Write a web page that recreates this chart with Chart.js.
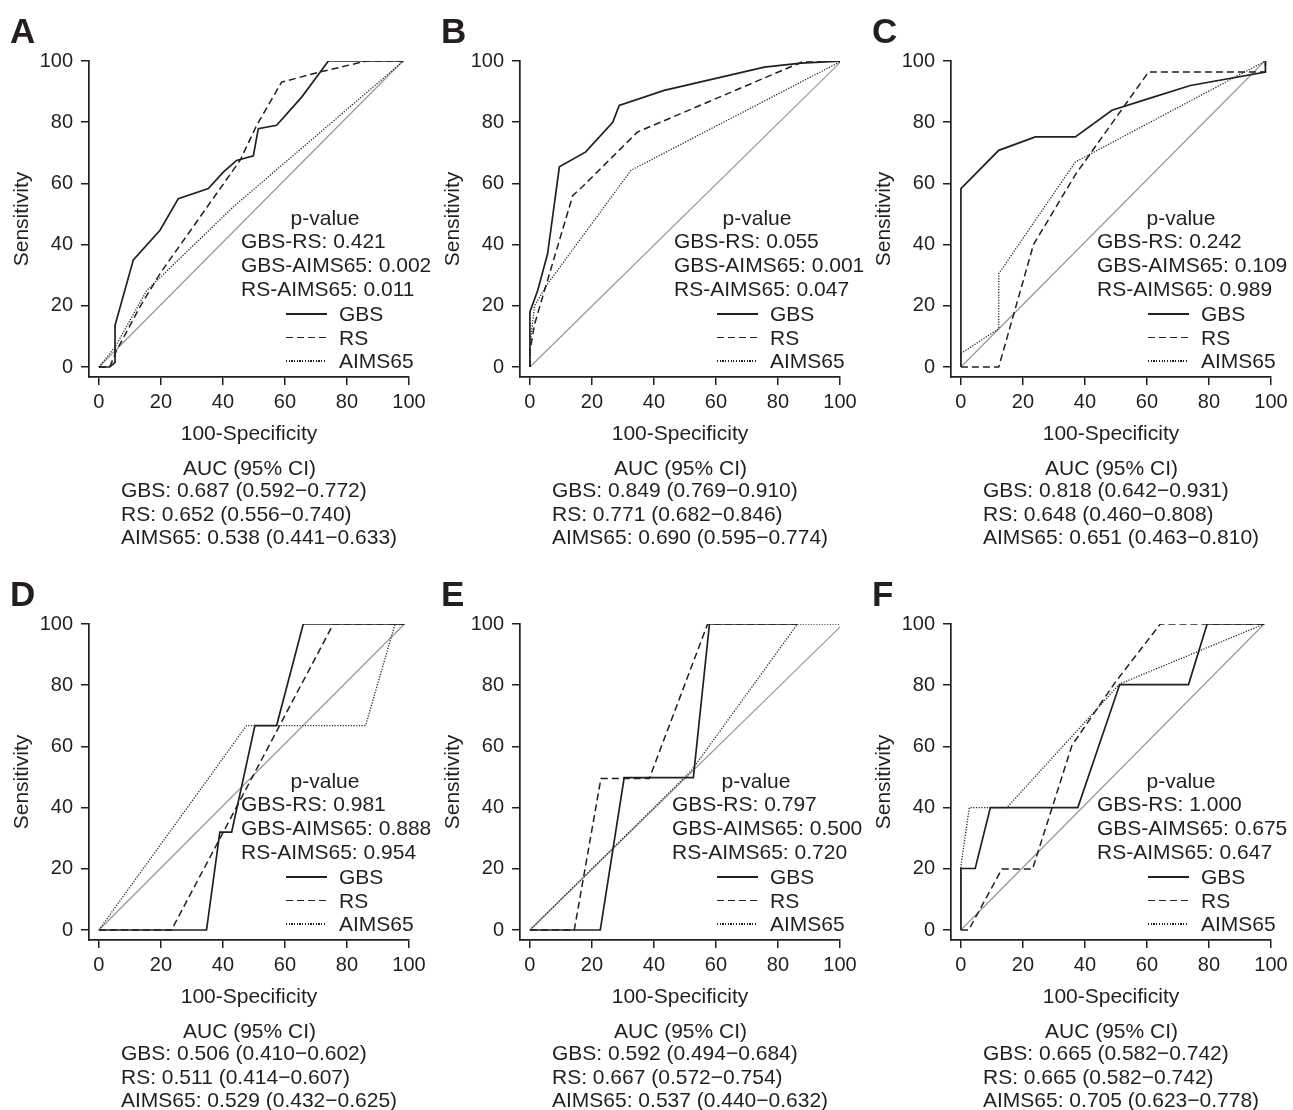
<!DOCTYPE html>
<html>
<head>
<meta charset="utf-8">
<script src="https://cdn.jsdelivr.net/npm/chart.js@4.4.1/dist/chart.umd.min.js"></script>
<style>
  body { margin:0; background:#fff; width:1293px; height:1110px; position:relative; overflow:hidden;
         font-family:"Liberation Sans", Arial, sans-serif; color:#231f20; }
  canvas { position:absolute; }
  .t { position:absolute; white-space:nowrap; line-height:1; font-size:21px; }
  .lbl { font-family:"Liberation Sans Narrow","Liberation Sans",sans-serif; font-weight:bold; font-size:35px; }
  .smp { position:absolute; width:41px; }
</style>
</head>
<body>
<script>
// axis ticks
const xTicks = [0, 20, 40, 60, 80, 100];
const yTicks = [0, 20, 40, 60, 80, 100];
const seriesNames = ['GBS', 'RS', 'AIMS65'];
const pairNames = ['GBS-RS', 'GBS-AIMS65', 'RS-AIMS65'];

// A
const gbsA = [[0,0],[3.5,0],[5.2,1.5],[5.2,13.6],[11.1,35],[19.7,44.7],[25.6,55],[35.3,58.3],[40.1,63.7],[44.4,67.5],[49.8,69],[51.4,77.9],[57.3,79],[65.4,88.2],[74,100],[98.2,100]];
const rsA = [[0,0],[3.5,0],[5.5,5],[13.2,19.6],[19.7,30.5],[45.5,67.5],[50.9,79],[58.9,93.1],[71.3,96.4],[86.3,100],[98.2,100]];
const aimsA = [[0,0],[5.2,6.5],[15.4,25],[43.3,52.3],[98.2,100]];
const refA = [[0,0],[98,100]];
const pA = ['0.421', '0.002', '0.011'];
const aucA = ['0.687 (0.592−0.772)', '0.652 (0.556−0.740)', '0.538 (0.441−0.633)'];

// B
const gbsB = [[0,0],[0,18],[2.5,25],[5.7,37],[9.5,65.4],[18,70.3],[26.7,80],[28.8,85.5],[43.3,90.4],[75.6,98],[87.4,99.3],[100.5,100]];
const rsB = [[0,0],[0,5],[1.5,14],[5.2,26.7],[13.8,56],[17,59],[34.7,76.8],[88.5,100],[100.5,100]];
const aimsB = [[0,0],[0,7],[1.5,20],[5.7,27.2],[32.6,64.3],[100.5,100]];
const refB = [[0,0],[100.5,100]];
const pB = ['0.055', '0.001', '0.047'];
const aucB = ['0.849 (0.769−0.910)', '0.771 (0.682−0.846)', '0.690 (0.595−0.774)'];

// C
const gbsC = [[0,0],[0,58.3],[12.2,70.8],[24,75.2],[36.9,75.2],[48.7,83.9],[60.5,87.7],[74,92],[98.2,96.4],[98.2,100]];
const rsC = [[0,0],[12.2,0],[23.4,40],[37,63],[60.5,96.4],[98.2,96.4],[98.2,100]];
const aimsC = [[0,0],[0,4.4],[12.2,12.5],[12.2,30.5],[36.9,67],[98.2,100]];
const refC = [[0,0],[98,100]];
const pC = ['0.242', '0.109', '0.989'];
const aucC = ['0.818 (0.642−0.931)', '0.648 (0.460−0.808)', '0.651 (0.463−0.810)'];

// D
const gbsD = [[0,0],[34.7,0],[39,32],[42.8,32],[50.3,66.8],[57.3,66.8],[65.9,100],[98.5,100]];
const rsD = [[0,0],[23.4,0],[75.6,100],[98.5,100]];
const aimsD = [[0,0],[47.6,66.8],[86,66.8],[95.5,100],[98.5,100]];
const refD = [[0,0],[98.5,100]];
const pD = ['0.981', '0.888', '0.954'];
const aucD = ['0.506 (0.410−0.602)', '0.511 (0.414−0.607)', '0.529 (0.432−0.625)'];

// E
const gbsE = [[0,0],[22.7,0],[30.4,49.8],[52.7,49.8],[57.9,100],[86.3,100]];
const rsE = [[0,0],[14.3,0],[22.9,49.5],[38.5,49.5],[57.3,100],[86.3,100]];
const aimsE = [[0,0],[52,52],[86.3,100],[101,100]];
const refE = [[0,0],[101,100]];
const pE = ['0.797', '0.500', '0.720'];
const aucE = ['0.592 (0.494−0.684)', '0.667 (0.572−0.754)', '0.537 (0.440−0.632)'];

// F
const gbsF = [[0,0],[0,20.1],[4.6,20.1],[9.5,40],[37.7,40],[51.2,80.2],[73.4,80.2],[79.4,100],[97.8,100]];
const rsF = [[0,0],[2.5,0],[13.2,19.9],[23.1,19.9],[35.8,60.3],[49.8,81],[64.3,100],[97.8,100]];
const aimsF = [[0,0],[0,21],[2.7,40],[14.8,40],[51.2,80.4],[97.8,100]];
const refF = [[0,0],[97.8,100]];
const pF = ['1.000', '0.675', '0.647'];
const aucF = ['0.665 (0.582−0.742)', '0.665 (0.582−0.742)', '0.705 (0.623−0.778)'];

const panels = [
  { id:'A', gbs:gbsA, rs:rsA, aims:aimsA, ref:refA, p:pA, auc:aucA, col:0, row:0, pLeft:241, pMid:325 },
  { id:'B', gbs:gbsB, rs:rsB, aims:aimsB, ref:refB, p:pB, auc:aucB, col:1, row:0, pLeft:243, pMid:326 },
  { id:'C', gbs:gbsC, rs:rsC, aims:aimsC, ref:refC, p:pC, auc:aucC, col:2, row:0, pLeft:235, pMid:319 },
  { id:'D', gbs:gbsD, rs:rsD, aims:aimsD, ref:refD, p:pD, auc:aucD, col:0, row:1, pLeft:241, pMid:325 },
  { id:'E', gbs:gbsE, rs:rsE, aims:aimsE, ref:refE, p:pE, auc:aucE, col:1, row:1, pLeft:241, pMid:325 },
  { id:'F', gbs:gbsF, rs:rsF, aims:aimsF, ref:refF, p:pF, auc:aucF, col:2, row:1, pLeft:235, pMid:319 }
];

const INK = '#231f20';
const FAM = '"Liberation Sans", Arial, sans-serif';
const xy = arr => arr.map(d => ({ x: d[0], y: d[1] }));

// text placed by baseline (line-height 1, Liberation metrics)
function put(txt, x, base, cls, size, center) {
  const d = document.createElement('div');
  d.className = 't ' + (cls || '');
  if (size) d.style.fontSize = size + 'px';
  const fs = size || 21;
  d.style.left = x + 'px';
  d.style.top = (base - 0.8465 * fs) + 'px';
  if (center) d.style.transform = 'translateX(-50%)';
  d.textContent = txt;
  document.body.appendChild(d);
}

function sample(x, y, bg, h) {
  const s = document.createElement('div');
  s.className = 'smp';
  s.style.left = x + 'px';
  s.style.top = (y - h / 2) + 'px';
  s.style.height = h + 'px';
  s.style.background = bg;
  document.body.appendChild(s);
}

const line = (data, opts) => Object.assign({
  data: xy(data), showLine: true, pointRadius: 0, borderColor: INK, borderWidth: 1.7, fill: false, tension: 0
}, opts);

panels.forEach(p => {
  const ox = p.col * 431, oy = p.row * 563;
  const cv = document.createElement('canvas');
  cv.width = 431; cv.height = 548;
  cv.style.left = ox + 'px'; cv.style.top = oy + 'px';
  document.body.appendChild(cv);

  new Chart(cv, {
    type: 'scatter',
    data: {
      datasets: [
        line(p.gbs, { label: 'GBS' }),
        line(p.rs, { label: 'RS', borderWidth: 1.5, borderDash: [7, 4] }),
        line(p.aims, { label: 'AIMS65', borderWidth: 1.3, borderDash: [1.2, 1.5] }),
        line(p.ref, { label: 'ref', borderColor: '#969696', borderWidth: 1.2 })
      ]
    },
    options: {
      responsive: false,
      animation: false,
      events: [],
      layout: { padding: { left: 9.4, top: 61, right: 22, bottom: 100.7 } },
      plugins: { legend: { display: false }, tooltip: { enabled: false } },
      scales: {
        x: {
          type: 'linear', min: -3.2, max: 100,
          afterBuildTicks: s => { s.ticks = xTicks.map(v => ({ value: v })); },
          afterFit: s => { s.height = 70.3; },
          grid: { drawOnChartArea: false, drawTicks: true, tickLength: 8, color: INK, lineWidth: 1.5 },
          border: { display: true, color: INK, width: 1.7 },
          ticks: { color: INK, font: { size: 20, family: FAM }, padding: 5, maxRotation: 0 },
          title: { display: true, text: '100-Specificity', color: INK, font: { size: 21, family: FAM }, padding: 0 }
        },
        y: {
          type: 'linear', min: -3.27, max: 100,
          afterBuildTicks: s => { s.ticks = yTicks.map(v => ({ value: v })); },
          afterFit: s => { s.width = 79.6; },
          grid: { drawOnChartArea: false, drawTicks: true, tickLength: 8, color: INK, lineWidth: 1.5 },
          border: { display: true, color: INK, width: 1.7 },
          ticks: { color: INK, font: { size: 20, family: FAM }, padding: 8 },
          title: { display: true, text: 'Sensitivity', color: INK, font: { size: 21, family: FAM }, padding: 0 }
        }
      }
    }
  });

  // panel letter
  put(p.id, ox + 10, oy + 43, 'lbl', 35);

  // p-value block
  put('p-value', ox + p.pMid, oy + 225, '', 21, true);
  p.p.forEach((v, i) => put(pairNames[i] + ': ' + v, ox + p.pLeft, oy + 248 + i * 24));

  // legend
  const styles = [
    [INK, 1.7],
    ['repeating-linear-gradient(90deg,' + INK + ' 0 7px,transparent 7px 11px)', 1.5],
    ['repeating-linear-gradient(90deg,' + INK + ' 0 1.2px,transparent 1.2px 2.7px)', 1.3]
  ];
  seriesNames.forEach((n, i) => {
    const base = oy + 321 + i * 23.5;
    sample(ox + 286, base - 7, styles[i][0], styles[i][1]);
    put(n, ox + 339, base);
  });

  // AUC block
  put('AUC (95% CI)', ox + 249.5, oy + 475, '', 21, true);
  p.auc.forEach((v, i) => put(seriesNames[i] + ': ' + v, ox + 121, oy + 497 + i * 23.5));
});
</script>
</body>
</html>
